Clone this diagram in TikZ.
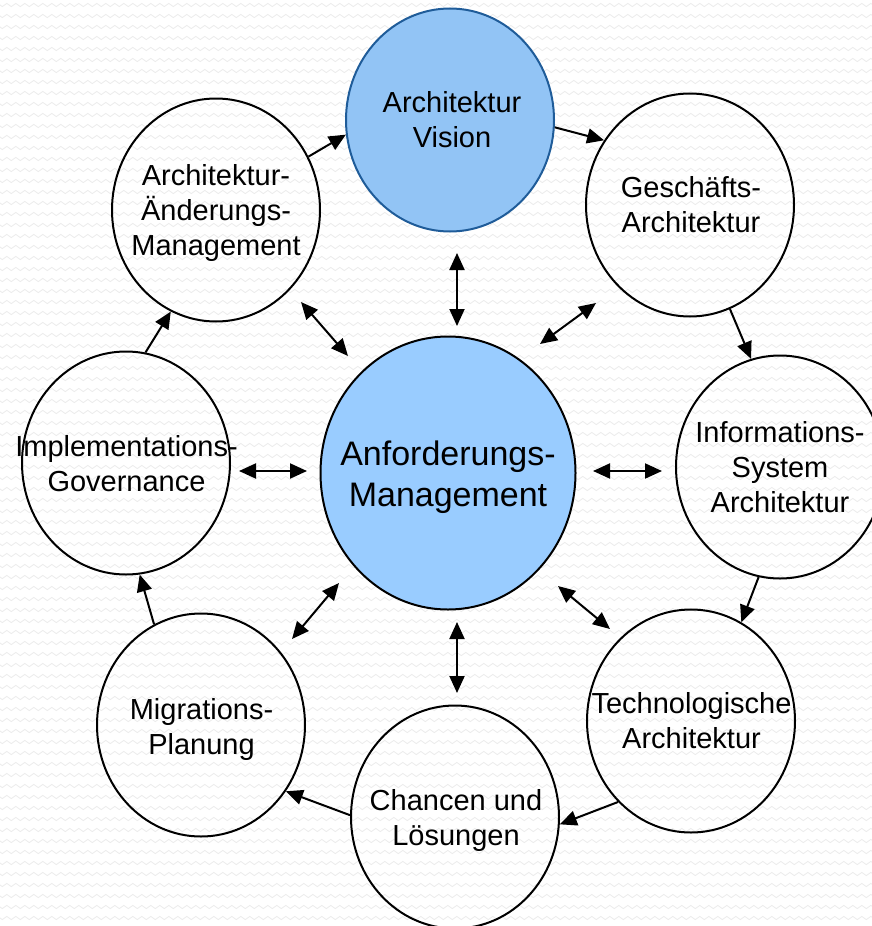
\documentclass[tikz,border=0pt]{standalone}
\usepackage{fontspec}
\setmainfont{Liberation Sans}
\usetikzlibrary{shapes.geometric,arrows.meta,decorations.pathmorphing}
\definecolor{cenfill}{RGB}{153,204,255}
\definecolor{visfill}{RGB}{146,196,245}
\definecolor{visborder}{RGB}{31,92,153}
\definecolor{bgwave}{RGB}{236,236,236}
\begin{document}
\begin{tikzpicture}[x=1pt,y=-1pt,
  phase/.style={ellipse, draw=black, line width=2pt, minimum width=208pt, minimum height=223pt, inner sep=0pt},
  hub/.style={phase, fill=cenfill, minimum width=255pt, minimum height=273pt},
  vision/.style={phase, fill=visfill, draw=visborder},
  lbl/.style={align=center, font=\fontsize{29}{35}\selectfont, inner sep=0pt},
  hublbl/.style={lbl, font=\fontsize{34}{41}\selectfont},
  flow/.style={line width=2pt, -{Triangle[length=17pt,width=15pt]}},
  link/.style={line width=2pt, {Triangle[length=17pt,width=15pt]}-{Triangle[length=17pt,width=15pt]}},
  wave/.style={draw=bgwave, line width=0.8pt, decorate, decoration={snake, segment length=9pt, amplitude=1.6pt}}
]
\useasboundingbox (0,0) rectangle (871,926);
\fill[white] (0,0) rectangle (871,926);
\foreach \yy in {5,16,...,926} \draw[wave] (-5,\yy) -- (880,\yy);

% ellipses
\node[hub] (cen) at (448,473) {};
\node[vision] (vis) at (450,120) {};
\node[phase] (ges) at (690,205) {};
\node[phase] (inf) at (780,467) {};
\node[phase] (tec) at (691,721) {};
\node[phase] (cha) at (455,817) {};
\node[phase] (mig) at (201,725) {};
\node[phase] (imp) at (126,463) {};
\node[phase] (aen) at (216,210) {};

% labels
\node[hublbl] (tcen) at (448,477.5) {Anforderungs-\\Management};
\node[lbl] (tvis) at (452,120) {Architektur\\Vision};
\node[lbl] (tges) at (691,205) {Geschäfts-\\Architektur};
\node[lbl] (tinf) at (780,467) {Informations-\\System\\Architektur};
\node[lbl] (ttec) at (691.5,721) {Technologische\\Architektur};
\node[lbl] (tcha) at (456,820) {Chancen und\\Lösungen};
\node[lbl] (tmig) at (201.5,729.5) {Migrations-\\Planung};
\node[lbl] (timp) at (126.5,463.5) {Implementations-\\Governance};
\node[lbl] (taen) at (216,213) {Architektur-\\Änderungs-\\Management};

% cycle
\draw[flow] (vis.-4) -- (ges.143);
\draw[flow] (ges.-69) -- (inf.105);
\draw[flow] (inf.-101) -- (tec.63);
\draw[flow] (tec.-132) -- (cha.-4);
\draw[flow] (cha.179) -- (mig.-38);
\draw[flow] (mig.115) -- (imp.-83);
\draw[flow] (imp.80) -- (aen.-114);
\draw[flow] (aen.30) -- (vis.-172);

% links to hub
\coordinate (n1) at (457,253); \coordinate (n2) at (457,326);
\coordinate (ne1) at (596,303); \coordinate (ne2) at (540,344);
\coordinate (e1) at (662,471); \coordinate (e2) at (593,471);
\coordinate (se1) at (610,629); \coordinate (se2) at (558,586);
\coordinate (s1) at (457,693); \coordinate (s2) at (457,622);
\coordinate (sw1) at (292,639); \coordinate (sw2) at (339,583);
\coordinate (w1) at (239,471); \coordinate (w2) at (307,471);
\coordinate (nw1) at (301,302); \coordinate (nw2) at (348,356);
\draw[link] (n1) -- (n2);
\draw[link] (ne1) -- (ne2);
\draw[link] (e1) -- (e2);
\draw[link] (se1) -- (se2);
\draw[link] (s1) -- (s2);
\draw[link] (sw1) -- (sw2);
\draw[link] (w1) -- (w2);
\draw[link] (nw1) -- (nw2);
\end{tikzpicture}
\end{document}
